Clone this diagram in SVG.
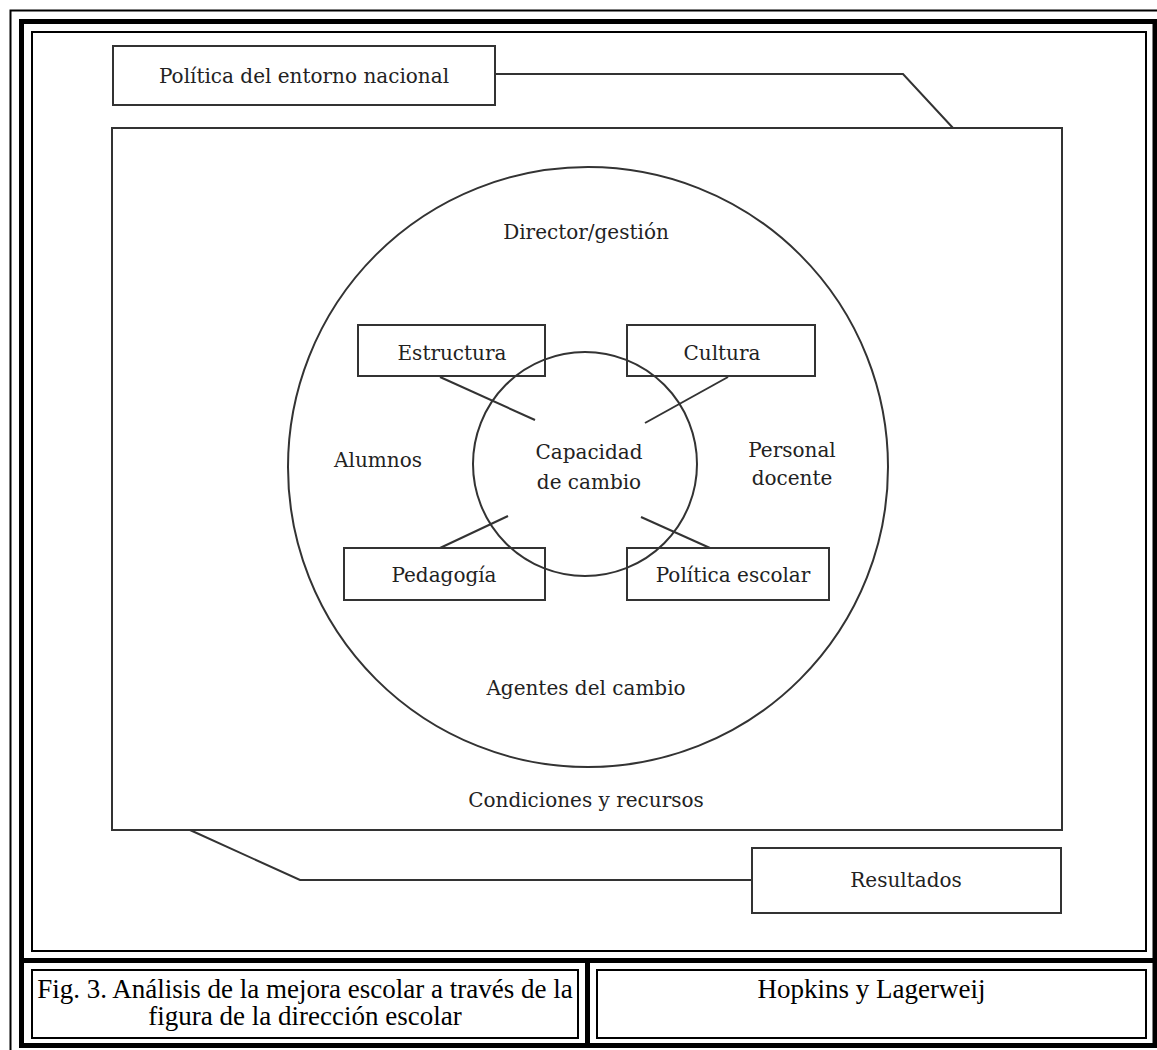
<svg xmlns="http://www.w3.org/2000/svg" width="1157" height="1050" viewBox="0 0 1157 1050">
<style>
.frame{fill:none;stroke:#000}
.box{fill:#fff;stroke:#333;stroke-width:2}
.sbox{fill:none;stroke:#333;stroke-width:2}
.ring{fill:none;stroke:#333;stroke-width:2}
.lbl{font-family:"DejaVu Serif",serif;font-size:20px;fill:#222;text-anchor:middle}
.cap{font-family:"Liberation Serif","Times New Roman",serif;font-size:27px;fill:#000;text-anchor:middle}
.conn{fill:none;stroke:#333;stroke-width:2}
</style>
<rect width="1157" height="1050" fill="#fff"/>
<g id="frame">
<path class="frame" d="M10.5,1050 V10.5 H1157" stroke-width="2"/>
<rect class="frame" x="21.5" y="21.5" width="1133.5" height="1024" stroke-width="5"/>
<line class="frame" x1="19" y1="960.5" x2="1157" y2="960.5" stroke-width="5"/>
<line class="frame" x1="587.5" y1="960" x2="587.5" y2="1046" stroke-width="5"/>
<rect class="frame" x="32" y="32" width="1114" height="919" stroke-width="2"/>
<rect class="frame" x="32" y="970" width="546" height="68" stroke-width="2"/>
<rect class="frame" x="597" y="970" width="549" height="68" stroke-width="2"/>
</g>
<g id="caption">
<text class="cap" x="305" y="998">Fig. 3. Análisis de la mejora escolar a través de la</text>
<text class="cap" x="305" y="1025">figura de la dirección escolar</text>
</g>
<g id="source">
<text class="cap" x="871.5" y="998">Hopkins y Lagerweij</text>
</g>
<g id="connectors">
<polyline class="conn" points="495,74 903,74 953,128"/>
<polyline class="conn" points="190,830 300,880 752,880"/>
<line class="conn" x1="440" y1="377" x2="535" y2="420"/>
<line class="conn" x1="728" y1="377" x2="645" y2="423"/>
<line class="conn" x1="440" y1="548" x2="508" y2="516"/>
<line class="conn" x1="710" y1="548" x2="641" y2="517"/>
</g>
<g id="politica-entorno">
<rect class="box" x="113" y="46" width="382" height="59"/>
<text class="lbl" x="304" y="83">Política del entorno nacional</text>
</g>
<g id="condiciones">
<rect class="ring" x="112" y="128" width="950" height="702"/>
<text class="lbl" x="586" y="807">Condiciones y recursos</text>
</g>
<g id="director">
<circle class="ring" cx="588" cy="467" r="300"/>
<text class="lbl" x="586" y="239">Director/gestión</text>
<text class="lbl" x="586" y="695">Agentes del cambio</text>
<text class="lbl" x="378" y="467">Alumnos</text>
<text class="lbl" x="792" y="457">Personal</text>
<text class="lbl" x="792" y="485">docente</text>
</g>
<g id="capacidad">
<circle class="ring" cx="585" cy="464" r="112"/>
<text class="lbl" x="589" y="459">Capacidad</text>
<text class="lbl" x="589" y="489">de cambio</text>
</g>
<g id="estructura">
<rect class="sbox" x="358" y="325" width="187" height="51"/>
<text class="lbl" x="452" y="360">Estructura</text>
</g>
<g id="cultura">
<rect class="sbox" x="627" y="325" width="188" height="51"/>
<text class="lbl" x="722" y="360">Cultura</text>
</g>
<g id="pedagogia">
<rect class="sbox" x="344" y="548" width="201" height="52"/>
<text class="lbl" x="444" y="582">Pedagogía</text>
</g>
<g id="politica-escolar">
<rect class="sbox" x="627" y="548" width="202" height="52"/>
<text class="lbl" x="733" y="582">Política escolar</text>
</g>
<g id="resultados">
<rect class="box" x="752" y="848" width="309" height="65"/>
<text class="lbl" x="906" y="887">Resultados</text>
</g>
</svg>
